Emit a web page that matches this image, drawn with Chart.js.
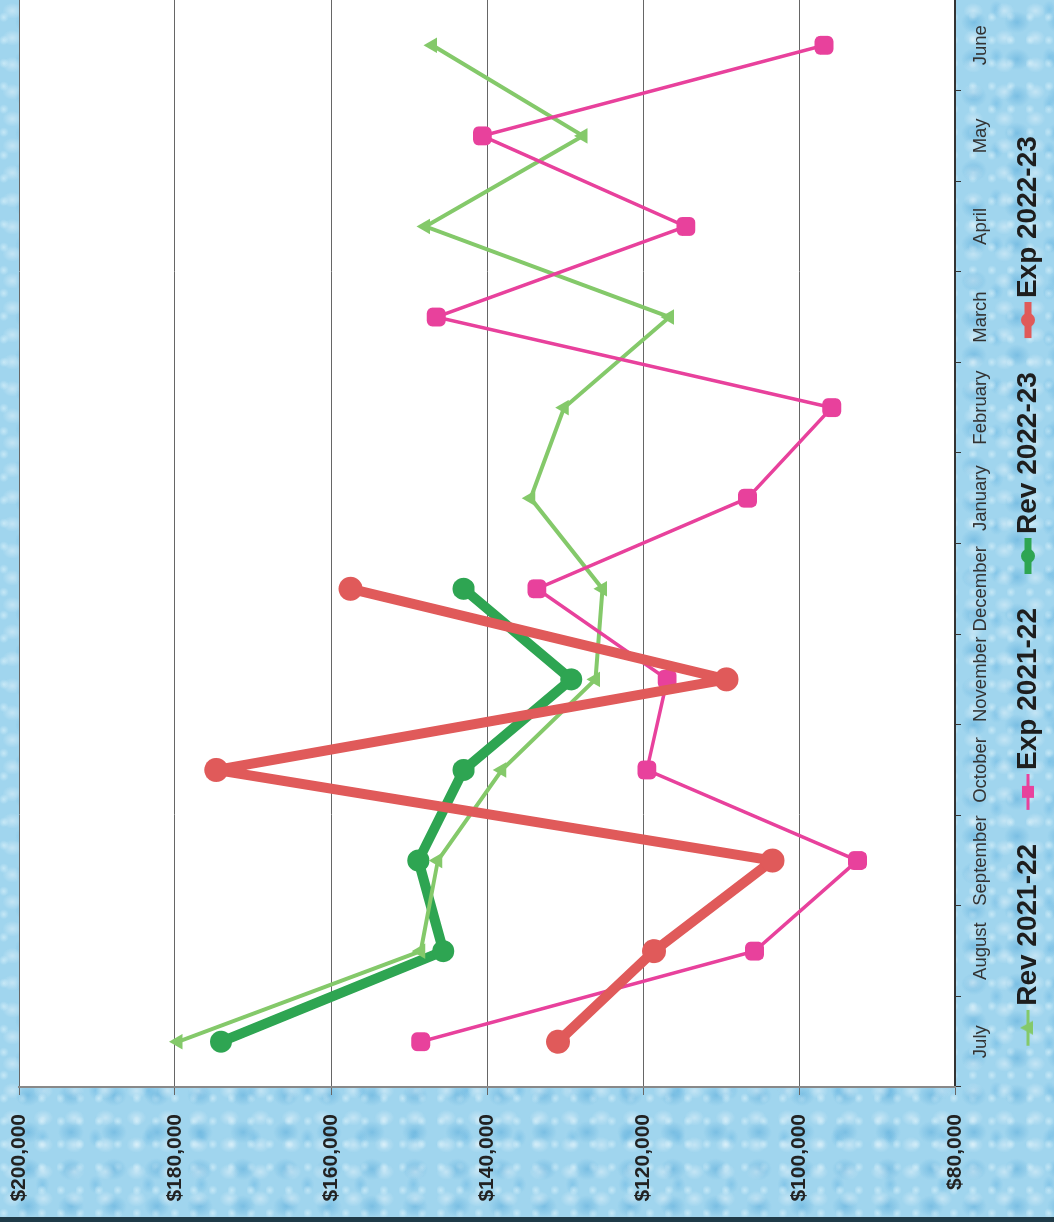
<!DOCTYPE html>
<html>
<head>
<meta charset="utf-8">
<script src="https://cdn.jsdelivr.net/npm/chart.js@4.4.1/dist/chart.umd.min.js"></script>
<style>
  html, body { margin:0; padding:0; }
  body {
    width:1054px; height:1222px; overflow:hidden; position:relative;
    background-color:#a0d5ee;
    background-image:
      radial-gradient(ellipse 10px 8px at 40% 40%, rgba(255,255,255,.38), rgba(255,255,255,0) 100%),
      radial-gradient(ellipse 13px 11px at 65% 60%, rgba(70,160,212,.42), rgba(70,160,212,0) 100%),
      radial-gradient(circle 5px at 20% 75%, rgba(235,250,255,.5), rgba(235,250,255,0)),
      radial-gradient(ellipse 7px 9px at 80% 20%, rgba(100,180,225,.45), rgba(100,180,225,0));
    background-size: 31px 27px, 43px 37px, 19px 23px, 53px 47px;
    font-family:"Liberation Sans", Arial, sans-serif;
  }
  #wrap {
    position:absolute; left:0; top:0; width:1222px; height:1054px;
    transform-origin:0 0; transform:translate(0,1222px) rotate(-90deg);
  }
  #edge { position:absolute; left:0; right:0; bottom:0; height:5px; background:#1f3b48; }
</style>
</head>
<body>
<div id="wrap"><canvas id="c" width="1222" height="1054"></canvas></div>
<div id="edge"></div>
<script>
const months = ['July','August','September','October','November','December','January','February','March','April','May','June'];
const rev2122 = [179600,148500,146300,138100,126100,125200,134400,130100,116600,147900,127700,147000];
const exp2122 = [148500,105700,92500,119500,116900,133600,106600,95800,146500,114500,140600,96800];
const rev2223 = [174100,145600,148800,143000,129200,143000,null,null,null,null,null,null];
const exp2223 = [130900,118600,103400,174700,109300,157500,null,null,null,null,null,null];
const seriesNames = ['Rev 2021-22','Exp 2021-22','Rev 2022-23','Exp 2022-23'];
const valueMin = 80000, valueMax = 200000, valueStep = 20000;

const colors = ['#84c96a','#e8419c','#2ea552','#e05a5a'];
const widths = [4,3.5,10,10];
const styles = ['triangle','rectRounded','circle','circle'];
const radii = [9,11,11,12];

function makeIcon(color, lw, style) {
  const c = document.createElement('canvas');
  c.width = 68; c.height = 30;
  const g = c.getContext('2d');
  g.strokeStyle = color; g.fillStyle = color;
  g.lineWidth = Math.max(3, lw * 0.7);
  g.beginPath(); g.moveTo(32, 15); g.lineTo(68, 15); g.stroke();
  const cx = 50, cy = 15;
  g.beginPath();
  if (style === 'triangle') {
    g.moveTo(cx, cy - 8); g.lineTo(cx + 7, cy + 5); g.lineTo(cx - 7, cy + 5); g.closePath();
  } else if (style === 'rectRounded') {
    g.rect(cx - 6, cy - 6, 12, 12);
  } else {
    g.arc(cx, cy, 7, 0, Math.PI * 2);
  }
  g.fill();
  return c;
}

const datasets = [
  {label: seriesNames[0], data: rev2122, order: 3},
  {label: seriesNames[1], data: exp2122, order: 2},
  {label: seriesNames[2], data: rev2223, order: 4},
  {label: seriesNames[3], data: exp2223, order: 1}
].map((d, i) => Object.assign(d, {
  borderColor: colors[i], backgroundColor: colors[i],
  pointBackgroundColor: colors[i], pointBorderColor: colors[i],
  borderWidth: widths[i], pointStyle: styles[i], pointRadius: radii[i],
  pointBorderWidth: 0, tension: 0, spanGaps: false, fill: false,
  borderJoinStyle: 'round', borderCapStyle: 'round'
}));

const plotBg = {
  id: 'plotBg',
  beforeDraw(chart) {
    const {ctx, chartArea: a} = chart;
    ctx.save(); ctx.fillStyle = '#ffffff';
    ctx.fillRect(a.left, a.top, a.right - a.left, a.bottom - a.top);
    ctx.restore();
  }
};

new Chart(document.getElementById('c'), {
  type: 'line',
  data: { labels: months, datasets },
  plugins: [plotBg],
  options: {
    responsive: false, animation: false, devicePixelRatio: 1,
    layout: { autoPadding: false, padding: { left: 18, right: 0, top: 19, bottom: 2 } },
    plugins: {
      tooltip: { enabled: false },
      legend: {
        position: 'bottom',
        labels: {
          usePointStyle: true, pointStyleWidth: 48, padding: 12,
          color: '#1e1e1e',
          font: { family: '"Liberation Sans", Arial, sans-serif', size: 28, weight: 'bold' },
          generateLabels(chart) {
            return chart.data.datasets.map((ds, i) => ({
              text: ds.label, datasetIndex: i, hidden: false,
              fillStyle: colors[i], strokeStyle: colors[i], lineWidth: 0,
              fontColor: '#1e1e1e',
              pointStyle: makeIcon(colors[i], widths[i], styles[i])
            }));
          }
        }
      }
    },
    scales: {
      x: {
        type: 'category', offset: true,
        afterFit(s) { s.height = 47; },
        grid: { drawOnChartArea: false, drawTicks: true, tickLength: 6, color: '#333', offset: true },
        border: { color: '#333', width: 2 },
        ticks: { color: '#333', padding: 9, maxRotation: 0, minRotation: 0, autoSkip: false,
          font: { family: '"Liberation Sans", Arial, sans-serif', size: 18.5 } }
      },
      y: {
        min: valueMin, max: valueMax,
        afterFit(s) { s.width = 117; s.paddingTop = 0; s.paddingBottom = 0; },
        grid: { color: '#666', lineWidth: 1, tickLength: 8, drawTicks: true },
        border: { color: '#888', width: 2 },
        ticks: { stepSize: valueStep, color: '#222', padding: 19,
          font: { family: '"Liberation Sans", Arial, sans-serif', size: 21, weight: 'bold' },
          callback: v => '$' + Number(v).toLocaleString('en-US') }
      }
    }
  }
});
</script>
</body>
</html>
